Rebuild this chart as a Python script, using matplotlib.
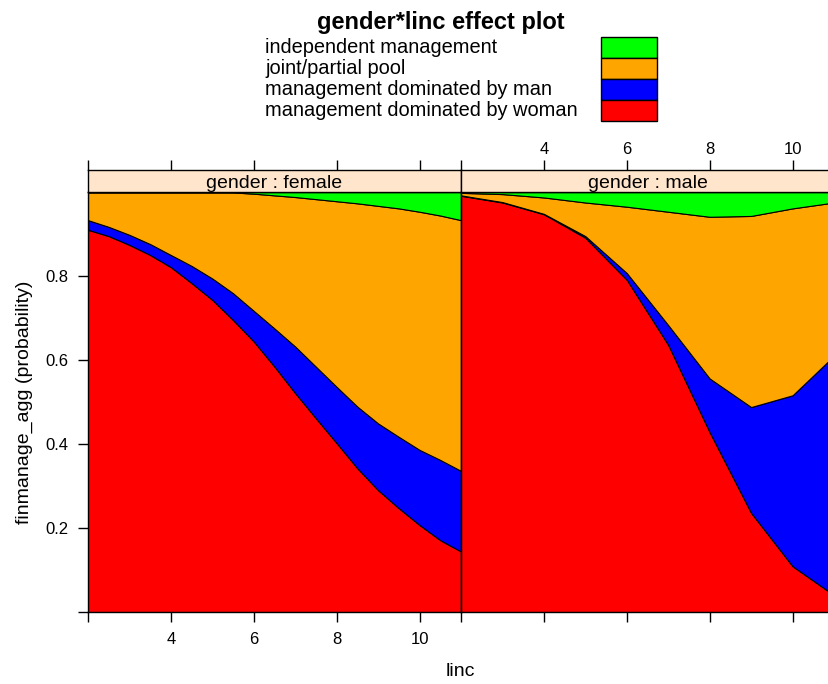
import matplotlib
matplotlib.use("Agg")
import matplotlib.pyplot as plt
from matplotlib.patches import Rectangle
import numpy as np

plt.rcParams['font.family'] = ['Liberation Sans', 'DejaVu Sans']

# Predicted probabilities of each financial-management type by income (linc)
categories = ["management dominated by woman", "management dominated by man",
              "joint/partial pool", "independent management"]

female_linc = [2, 2.5, 3, 3.5, 4, 4.5, 5, 5.5, 6, 6.5, 7, 7.5, 8, 8.5, 9, 9.5, 10, 10.5, 11]
female_woman = [0.910, 0.895, 0.874, 0.850, 0.821, 0.783, 0.743, 0.695, 0.644, 0.584,
                0.521, 0.461, 0.402, 0.342, 0.290, 0.247, 0.207, 0.171, 0.144]
female_man = [0.023, 0.022, 0.024, 0.026, 0.029, 0.041, 0.051, 0.064, 0.073, 0.091,
              0.111, 0.123, 0.134, 0.147, 0.159, 0.170, 0.179, 0.191, 0.192]
female_joint = [0.066, 0.082, 0.101, 0.123, 0.149, 0.175, 0.205, 0.240, 0.279, 0.317,
                0.356, 0.399, 0.442, 0.484, 0.518, 0.544, 0.567, 0.582, 0.597]
female_indep = [0.001, 0.001, 0.001, 0.001, 0.001, 0.001, 0.001, 0.001, 0.004, 0.008,
                0.012, 0.017, 0.022, 0.027, 0.033, 0.039, 0.047, 0.056, 0.067]

male_linc = [2, 3, 4, 5, 6, 7, 8, 9, 10, 11]
male_woman = [0.991, 0.975, 0.947, 0.891, 0.791, 0.636, 0.428, 0.236, 0.109, 0.040]
male_man = [0.001, 0.001, 0.001, 0.004, 0.016, 0.047, 0.128, 0.252, 0.407, 0.570]
male_joint = [0.006, 0.019, 0.039, 0.080, 0.158, 0.270, 0.385, 0.455, 0.445, 0.365]
male_indep = [0.002, 0.005, 0.013, 0.025, 0.035, 0.047, 0.059, 0.057, 0.039, 0.025]

panels = ["female", "male"]
colors = ["#FF0000", "#0000FF", "#FFA500", "#00FF00"]

x_ticks = [2, 4, 6, 8, 10]
x_ticklabels = ["", "4", "6", "8", "10"]
y_ticks = [0.0, 0.2, 0.4, 0.6, 0.8]
y_ticklabels = ["", "0.2", "0.4", "0.6", "0.8"]

W, H = 829, 684
fig = plt.figure(figsize=(W / 100, H / 100), dpi=100)


def fx(px):
    return px / W


def fy(py):
    return 1 - py / H


panel_data = {
    "female": (female_linc, [female_woman, female_man, female_joint, female_indep]),
    "male": (male_linc, [male_woman, male_man, male_joint, male_indep]),
}

panel_left = [88, 461]
panel_w = 373
top_px, bot_px = 192, 612
strip_top = 170

for i, g in enumerate(panels):
    ax = fig.add_axes([fx(panel_left[i]), fy(bot_px), panel_w / W, (bot_px - top_px) / H])
    xs, series = panel_data[g]
    probs = np.array(series)
    cum = np.vstack([np.zeros(len(xs)), np.cumsum(probs, axis=0)])
    for k in range(len(categories)):
        ax.fill_between(xs, cum[k], cum[k + 1], facecolor=colors[k],
                        edgecolor="black", linewidth=0.8)
    ax.set_xlim(2, 11)
    ax.set_ylim(0, 1.0)
    ax.set_xticks(x_ticks)
    ax.tick_params(axis="both", direction="out", length=7.2, width=1.0,
                   labelsize=12, colors="black")
    ax.tick_params(axis="x", pad=7)
    ax.tick_params(axis="y", pad=7)
    if i == 0:
        ax.set_xticklabels(x_ticklabels)
        ax.set_yticks(y_ticks)
        ax.set_yticklabels(y_ticklabels)
    else:
        ax.set_xticklabels([""] * len(x_ticks))
        ax.set_yticks([])
    for s in ax.spines.values():
        s.set_linewidth(1.0)

    # strip with top axis
    sax = fig.add_axes([fx(panel_left[i]), fy(top_px), panel_w / W, (top_px - strip_top) / H])
    sax.set_facecolor("#FFE5CC")
    sax.set_xlim(2, 11)
    sax.set_ylim(0, 1)
    sax.set_yticks([])
    sax.set_xticks(x_ticks)
    sax.tick_params(axis="x", bottom=False, top=True, direction="out",
                    length=7.2, width=1.0, labelsize=12, pad=2,
                    labelbottom=False, labeltop=(i == 1))
    if i == 1:
        sax.set_xticklabels(x_ticklabels)
    for s in sax.spines.values():
        s.set_linewidth(1.0)
    sax.text(0.5, 0.40, "gender : " + g, transform=sax.transAxes,
             ha="center", va="center", fontsize=14)

# title and legend
fig.text(fx(441), fy(22), "gender*linc effect plot", ha="center", va="center",
         fontsize=17, fontweight="bold")
legend_order = [3, 2, 1, 0]
for r, k in enumerate(legend_order):
    yc = 47.5 + 21 * r
    fig.text(fx(265), fy(yc), categories[k], ha="left", va="center", fontsize=14.4)
    fig.add_artist(Rectangle((fx(601), fy(yc + 10.5)), 56 / W, 21 / H,
                             transform=fig.transFigure, facecolor=colors[k],
                             edgecolor="black", linewidth=1.0))

fig.text(fx(460), fy(672), "linc", ha="center", va="center", fontsize=14)
fig.text(fx(24), fy(402), "finmanage_agg (probability)", ha="center", va="center",
         rotation=90, fontsize=14)

fig.savefig("out.png", dpi=100)
